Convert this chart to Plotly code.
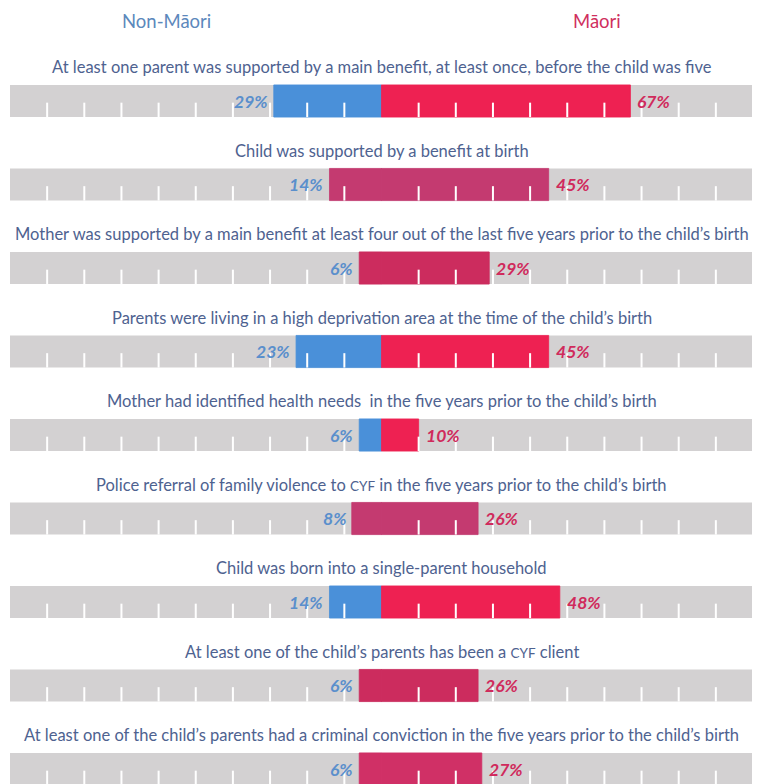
import plotly.graph_objects as go

categories = [
    "At least one parent was supported by a main benefit, at least once, before the child was five",
    "Child was supported by a benefit at birth",
    "Mother was supported by a main benefit at least four out of the last five years prior to the child’s birth",
    "Parents were living in a high deprivation area at the time of the child’s birth",
    "Mother had identified health needs  in the five years prior to the child’s birth",
    "Police referral of family violence to <span style='font-size:13.5px'>CYF</span> in the five years prior to the child’s birth",
    "Child was born into a single-parent household",
    "At least one of the child’s parents has been a <span style='font-size:13.5px'>CYF</span> client",
    "At least one of the child’s parents had a criminal conviction in the five years prior to the child’s birth",
]
non_maori = [29, 14, 6, 23, 6, 8, 14, 6, 6]
maori = [67, 45, 29, 45, 10, 26, 48, 26, 27]
tick_values = [10, 20, 30, 40, 50, 60, 70, 80, 90]
group_labels = ["Non-Māori", "Māori"]

# styles (kept separate from data)
BLUE = "#4A90D9"
RED = "#EE2152"
MAG = "#C43A70"
CRIM = "#CC2C5E"
nm_colors = [BLUE, MAG, CRIM, BLUE, BLUE, MAG, BLUE, CRIM, "#D03066"]
m_colors = [RED, MAG, CRIM, RED, RED, MAG, RED, CRIM, "#D03066"]
GRAY = "#D3D1D2"
TITLE_C = "#4E6290"
LBL_BLUE = "#5A8FCC"
LBL_RED = "#D02A5C"
FONT = "Lato, 'Open Sans', sans-serif"

n = len(categories)
rows = list(range(n))
BAR_W = 0.385

fig = go.Figure()
# gray backgrounds
fig.add_trace(go.Bar(y=rows, x=[200] * n, base=[-100] * n, orientation="h",
                     width=BAR_W, marker=dict(color=GRAY, line=dict(width=0)),
                     hoverinfo="skip", showlegend=False))
# non-Maori (to the left)
fig.add_trace(go.Bar(y=rows, x=non_maori, base=[-v for v in non_maori], orientation="h",
                     width=BAR_W, marker=dict(color=nm_colors, line=dict(width=0.8, color=nm_colors)),
                     hoverinfo="skip", showlegend=False))
# Maori (to the right)
fig.add_trace(go.Bar(y=rows, x=maori, base=[0] * n, orientation="h",
                     width=BAR_W, marker=dict(color=m_colors, line=dict(width=0.8, color=m_colors)),
                     hoverinfo="skip", showlegend=False))

# white tick marks
tx, ty = [], []
for i in rows:
    for t in tick_values:
        for s in (-1, 1):
            tx += [s * t, s * t, None]
            ty += [i + 0.02, i + BAR_W / 2, None]
fig.add_trace(go.Scatter(x=tx, y=ty, mode="lines", line=dict(color="white", width=2),
                         hoverinfo="skip", showlegend=False))

ann = []
for i in rows:
    ann.append(dict(x=0, y=i - 0.405, text=categories[i], showarrow=False,
                    xanchor="center", yanchor="middle",
                    font=dict(family=FONT, size=16.5, color=TITLE_C)))
    ann.append(dict(x=-non_maori[i], y=i, text=f"<b><i>{non_maori[i]}%</i></b>",
                    showarrow=False, xanchor="right", yanchor="middle", xshift=-4,
                    font=dict(family=FONT, size=17.5, color=LBL_BLUE)))
    ann.append(dict(x=maori[i], y=i, text=f"<b><i>{maori[i]}%</i></b>",
                    showarrow=False, xanchor="left", yanchor="middle", xshift=5,
                    font=dict(family=FONT, size=17.5, color=LBL_RED)))

ann.append(dict(x=-58, y=-1.1138, text=group_labels[0], showarrow=False,
                xanchor="center", yanchor="top",
                font=dict(family=FONT, size=18.5, color="#5C88BC")))
ann.append(dict(x=58, y=-1.1138, text=group_labels[1], showarrow=False,
                xanchor="center", yanchor="top",
                font=dict(family=FONT, size=18.5, color="#D0305E")))

# page body has an 8px margin: compensate so the plot area lands where the reference has it
fig.update_layout(
    width=752, height=776,
    margin=dict(l=2, r=7, t=0, b=0),
    paper_bgcolor="white", plot_bgcolor="white",
    barmode="overlay",
    xaxis=dict(range=[-100, 100], visible=False, fixedrange=True),
    yaxis=dict(range=[8.1796, -1.1138], visible=False, fixedrange=True),
    annotations=ann,
)

fig.write_html("out.html")
